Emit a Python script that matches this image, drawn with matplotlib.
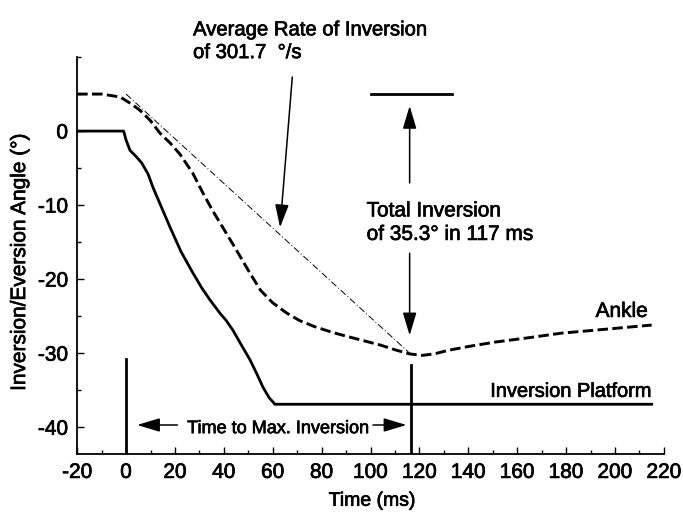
import matplotlib
matplotlib.use("Agg")
import matplotlib.pyplot as plt
import matplotlib.patheffects as pe
from matplotlib.ticker import MultipleLocator

plt.rcParams['font.family'] = ['Liberation Sans', 'DejaVu Sans']
plt.rcParams['axes.unicode_minus'] = False

# Inversion platform angle (deg) vs time (ms)
platform_t = [-20, -1, 0, 1.6, 4, 6.4, 9, 11, 14.5, 18, 22.5, 27.4, 31, 34.3, 38.4, 41, 43.7, 47, 50.7, 53.5, 56, 58.5, 60.9, 215]
platform_v = [0, 0, -1.2, -2.6, -3.4, -4.3, -5.8, -7.6, -10.3, -13.0, -16.3, -19.2, -21.2, -22.8, -24.6, -25.6, -26.9, -28.8, -30.9, -32.8, -34.6, -36.0, -36.9, -36.9]

# Ankle angle (deg) vs time (ms)
ankle_t = [-20, -10, -2.4, 2, 5.7, 10, 13.9, 18, 22, 27.3, 31.5, 35.5, 41, 45, 50.7, 55, 60, 65.8, 71, 77, 84.5, 90, 97, 104, 110.6, 116, 121, 126, 132, 140, 151, 165, 178, 195, 215]
ankle_v = [5.0, 5.0, 4.6, 3.7, 2.8, 1.4, -0.3, -1.6, -3.1, -5.7, -8.4, -10.8, -13.8, -16.0, -19.2, -21.5, -23.2, -24.6, -25.6, -26.4, -27.2, -27.7, -28.3, -28.9, -29.6, -30.1, -30.3, -30.1, -29.6, -29.1, -28.5, -27.9, -27.3, -26.8, -26.2]

# average-rate line (start of inversion to maximum inversion)
rate_t = [0, 117]
rate_v = [5.0, -30.3]

xticks = [-20, 0, 20, 40, 60, 80, 100, 120, 140, 160, 180, 200, 220]
yticks = [0, -10, -20, -30, -40]

fig = plt.figure(figsize=(6.83, 5.14), dpi=100)
ax = fig.add_axes([0.113, 0.117, 0.859, 0.772])

ax.plot(platform_t, platform_v, color='black', lw=2.0, solid_joinstyle='round')
ax.plot(ankle_t, ankle_v, color='black', lw=2.1, linestyle=(0, (3.6, 1.5)))
ax.plot(rate_t, rate_v, color='black', lw=0.7, linestyle=(0, (7, 2.5, 1, 2.5)))

# vertical markers
ax.plot([0, 0], [-43.6, -30.8], color='black', lw=2.0)
ax.plot([116.5, 116.5], [-43.6, -31.6], color='black', lw=2.0)

# top reference bar
ax.plot([100, 133.5], [5.0, 5.0], color='black', lw=2.0)

arrow_kw = dict(arrowstyle='-|>,head_length=1.4,head_width=0.42', color='black', lw=1.1, shrinkA=0, shrinkB=0)
# total inversion arrows
ax.annotate('', xy=(116, 3.4), xytext=(116, -7.0), arrowprops=arrow_kw)
ax.annotate('', xy=(116, -27.6), xytext=(116, -16.5), arrowprops=arrow_kw)
# average rate arrow
ax.annotate('', xy=(63, -13.0), xytext=(68, 7.3), arrowprops=arrow_kw, annotation_clip=False)
# time to max arrows
ax.annotate('', xy=(4.5, -39.7), xytext=(21, -39.7), arrowprops=arrow_kw)
ax.annotate('', xy=(114.7, -39.7), xytext=(101, -39.7), arrowprops=arrow_kw)

thick = [pe.withStroke(linewidth=0.5, foreground='black')]
texts = [
    ax.text(98.4, -14.7, 'Total Inversion\nof 35.3° in 117 ms', fontsize=15, ha='left', va='baseline', linespacing=1.3),
    ax.text(27.4, 9.86, 'Average Rate of Inversion\nof 301.7  °/s', fontsize=14.6, ha='left', va='baseline', linespacing=1.25, clip_on=False),
    ax.text(25, -40.8, 'Time to Max. Inversion', fontsize=13, ha='left', va='baseline'),
    ax.text(213.5, -25.1, 'Ankle', fontsize=15, ha='right', va='baseline'),
    ax.text(215, -35.9, 'Inversion Platform', fontsize=14.4, ha='right', va='baseline'),
]

ax.set_xlim(-20, 220)
ax.set_ylim(-43.6, 10)
ax.spines['top'].set_visible(False)
ax.spines['right'].set_visible(False)
ax.spines['left'].set_bounds(-43.6, 10)
ax.spines['left'].set_linewidth(1.3)
ax.spines['bottom'].set_linewidth(1.3)
ax.set_xticks(xticks)
ax.set_yticks(yticks)
ax.xaxis.set_minor_locator(MultipleLocator(10))
ax.yaxis.set_minor_locator(MultipleLocator(5))
ax.tick_params(which='both', direction='in', labelsize=15, width=1.0, pad=6.5)
ax.tick_params(which='major', length=5)
ax.tick_params(which='minor', length=3)
xl = ax.set_xlabel('Time (ms)', fontsize=14)
yl = ax.set_ylabel('Inversion/Eversion Angle (°)', fontsize=15)
ax.xaxis.set_label_coords(0.503, -0.098)
ax.yaxis.set_label_coords(-0.082, 0.484)

for t in texts + [xl, yl] + ax.get_xticklabels() + ax.get_yticklabels():
    t.set_path_effects(thick)

fig.savefig('out.png', dpi=100)
